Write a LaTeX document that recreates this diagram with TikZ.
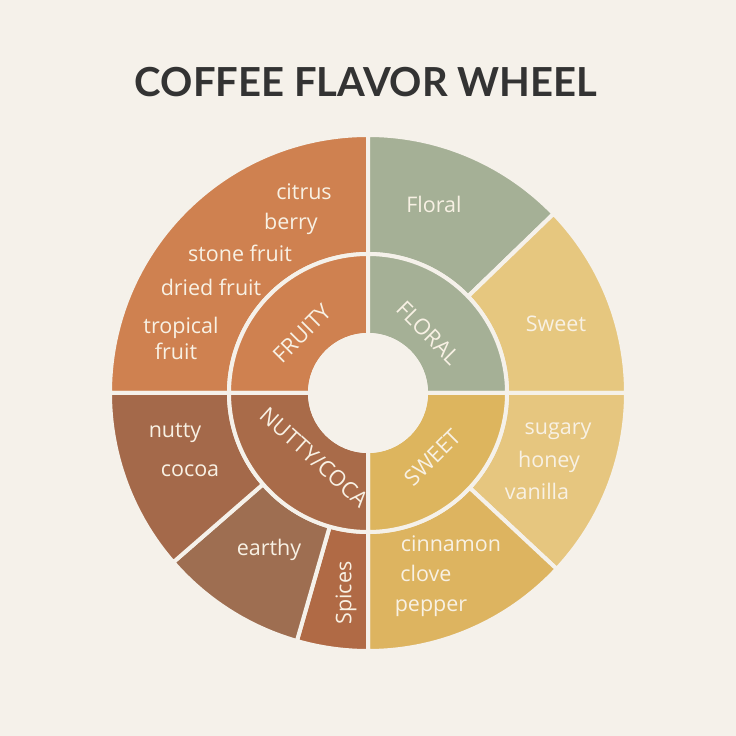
\documentclass[tikz,border=0pt]{standalone}
\usepackage{fontspec}
\setmainfont{Open Sans}
\newfontfamily\titlefont{Lato}
\definecolor{bg}{HTML}{F5F1EA}
\definecolor{fruity}{HTML}{CF8150}
\definecolor{floral}{HTML}{A5B096}
\definecolor{sweetout}{HTML}{E6C77F}
\definecolor{sugary}{HTML}{E6C67F}
\definecolor{sweetin}{HTML}{DDB55E}
\definecolor{cinnamon}{HTML}{DDB460}
\definecolor{nuttyout}{HTML}{A4694A}
\definecolor{nuttyin}{HTML}{A96B49}
\definecolor{earthy}{HTML}{9E6E51}
\definecolor{spices}{HTML}{B06A45}
\definecolor{ink}{HTML}{333333}
\definecolor{lbl}{HTML}{F8F1E4}
\tikzset{
  sector/.style={fill=#1, draw=bg, line width=4pt, line join=miter},
  lab/.style={text=lbl, font=\fontsize{21.5}{25}\selectfont, inner sep=0pt, anchor=base},
  ilab/.style={text=lbl, font=\fontsize{22}{26}\selectfont, inner sep=0pt},
}
\newcommand{\sect}[5]{% color, a1, a2, r1, r2
  \path[sector=#1] (#2:#4) arc[start angle=#2, end angle=#3, radius=#4] -- (#3:#5) arc[start angle=#3, end angle=#2, radius=#5] -- cycle;}
\begin{document}
\begin{tikzpicture}[x=1pt,y=1pt]
\fill[bg] (0,0) rectangle (736,736);
\useasboundingbox (0,0) rectangle (736,736);
\node[text=ink, font=\titlefont\bfseries\fontsize{40}{44}\selectfont, inner sep=0pt] (title) at (366,654) {COFFEE FLAVOR WHEEL};
\begin{scope}[shift={(368,343)}]
  % outer ring
  \sect{fruity}{90}{180}{139pt}{258pt}
  \sect{floral}{44}{90}{139pt}{258pt}
  \sect{sweetout}{0}{44}{139pt}{258pt}
  \sect{sugary}{-43}{0}{139pt}{258pt}
  \sect{cinnamon}{-90}{-43}{139pt}{258pt}
  \sect{spices}{-106}{-90}{139pt}{258pt}
  \sect{earthy}{-139}{-106}{139pt}{258pt}
  \sect{nuttyout}{-180}{-139}{139pt}{258pt}
  % inner ring
  \sect{fruity}{90}{180}{58pt}{139pt}
  \sect{floral}{0}{90}{58pt}{139pt}
  \sect{sweetin}{-90}{0}{58pt}{139pt}
  \sect{nuttyin}{-180}{-90}{58pt}{139pt}
  \fill[bg] (0,0) circle[radius=60pt];
  % inner labels
  \node[ilab, rotate=45] (lfruity) at (138:89pt) {FRUITY};
  \node[ilab, rotate=-45] (lfloral) at (45:85pt) {FLORAL};
  \node[ilab, rotate=-42] (lnutty) at (230:84pt) {NUTTY/COCA};
  \node[ilab, rotate=45] (lsweet) at (-45:91pt) {SWEET};
\end{scope}
% outer labels (pixel coords converted: y = 736 - py)
\node[lab] (citrus) at (304,536) {citrus};
\node[lab] (berry) at (291,506) {berry};
\node[lab] (stone) at (240,474) {stone fruit};
\node[lab] (dried) at (211,440) {dried fruit};
\node[lab] (tropical) at (181,402) {tropical};
\node[lab] (fruit) at (176,376) {fruit};
\node[lab] (lfl) at (434,523) {Floral};
\node[lab] (lsw) at (556,404) {Sweet};
\node[lab] (nutty) at (175,298) {nutty};
\node[lab] (cocoa) at (190,259) {cocoa};
\node[lab] (earthy) at (269,180) {earthy};
\node[ilab, rotate=90, font=\fontsize{21.5}{25}\selectfont] (spices) at (346,143) {Spices};
\node[lab] (sugary) at (558,301) {sugary};
\node[lab] (honey) at (549,268) {honey};
\node[lab] (vanilla) at (537,236) {vanilla};
\node[lab] (cinn) at (451,184) {cinnamon};
\node[lab] (clove) at (426,154) {clove};
\node[lab] (pepper) at (431,124) {pepper};
\end{tikzpicture}
\end{document}
